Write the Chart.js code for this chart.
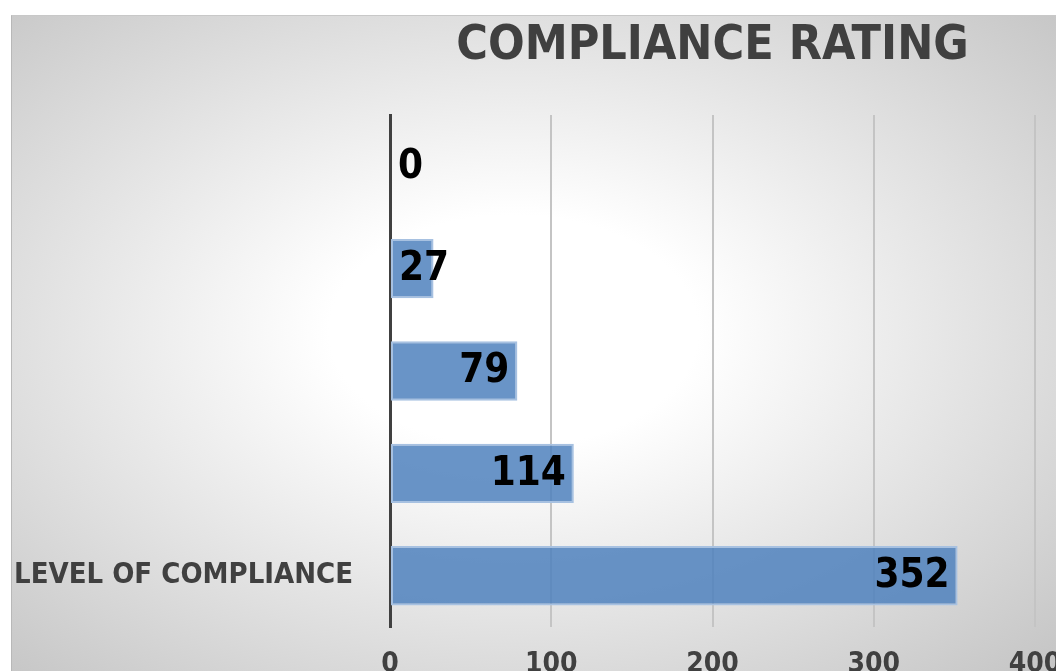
<!DOCTYPE html>
<html>
<head>
<meta charset="utf-8">
<script src="https://cdn.jsdelivr.net/npm/chart.js@4.4.1/dist/chart.umd.min.js"></script>
<style>
  html, body { margin: 0; padding: 0; background: #fff; overflow: hidden; }
  #panel {
    position: absolute; left: 11px; top: 15px; width: 1045px; height: 656px;
    overflow: hidden;
    border-left: 1px solid #b8b8b8; border-top: 1px solid #c8c8c8;
    background: radial-gradient(ellipse farthest-corner at 48% 48%, #ffffff 0%, #ffffff 24%, #c4c4c4 100%);
  }
  #chart { position: absolute; left: 0; top: 0; }
</style>
</head>
<body>
<div id="panel"><canvas id="chart" width="1100" height="700"></canvas></div>
<script>
const titleText = "COMPLIANCE RATING";
const categories = ["", "", "", "", "LEVEL OF COMPLIANCE"];
const values = [0, 27, 79, 114, 352];
const xTicks = [0, 100, 200, 300, 400];

const fontFamily = "'DejaVu Sans Condensed', 'DejaVu Sans', sans-serif";

const titlePlugin = {
  id: "topTitle",
  afterDraw(chart) {
    const { ctx, chartArea } = chart;
    ctx.save();
    ctx.font = "bold 48px " + fontFamily;
    ctx.fillStyle = "#404040";
    ctx.textAlign = "center";
    ctx.textBaseline = "middle";
    ctx.fillText(titleText, (chartArea.left + chartArea.right) / 2, 31);
    ctx.restore();
  },
};

const barLabelPlugin = {
  id: "barLabels",
  afterDatasetsDraw(chart) {
    const { ctx } = chart;
    const meta = chart.getDatasetMeta(0);
    ctx.save();
    ctx.font = "bold 40px " + fontFamily;
    ctx.fillStyle = "#000";
    ctx.textBaseline = "middle";
    meta.data.forEach((bar, i) => {
      const label = String(values[i]);
      const w = ctx.measureText(label).width;
      const base = bar.base;
      const end = bar.x;
      if (end - base > w + 16) {
        ctx.textAlign = "right";
        ctx.fillText(label, end - 8, bar.y + 1);
      } else {
        ctx.textAlign = "left";
        ctx.fillText(label, base + 8, bar.y + 1);
      }
    });
    ctx.restore();
  },
};

new Chart(document.getElementById("chart").getContext("2d"), {
  type: "bar",
  data: {
    labels: categories,
    datasets: [
      {
        data: values,
        backgroundColor: "rgba(79, 129, 189, 0.85)",
        borderColor: "rgba(167, 193, 225, 1)",
        borderWidth: 2,
        borderSkipped: false,
        categoryPercentage: 1,
        barPercentage: 0.58,
      },
    ],
  },
  options: {
    indexAxis: "y",
    responsive: false,
    animation: false,
    layout: { padding: { top: 99, right: 77, bottom: 31, left: 0 } },
    plugins: {
      legend: { display: false },
      tooltip: { enabled: false },
    },
    scales: {
      x: {
        min: 0,
        max: 400,
        afterBuildTicks(scale) {
          scale.ticks = xTicks.map((v) => ({ value: v }));
        },
        afterFit(scale) {
          scale.height = 58;
        },
        grid: {
          color: (c) => (c.tick && c.tick.value === 0 ? "rgba(0,0,0,0)" : "#c4c4c4"),
          lineWidth: 2,
          drawTicks: false,
        },
        border: { display: false },
        ticks: {
          padding: 21,
          color: "#404040",
          font: { family: fontFamily, size: 28, weight: "bold" },
        },
      },
      y: {
        afterFit(scale) {
          scale.width = 378;
        },
        grid: { display: false, drawTicks: false },
        border: { display: true, color: "#404040", width: 3 },
        ticks: {
          padding: 37,
          color: "#404040",
          font: { family: fontFamily, size: 29, weight: "bold" },
        },
      },
    },
  },
  plugins: [titlePlugin, barLabelPlugin],
});
</script>
</body>
</html>
